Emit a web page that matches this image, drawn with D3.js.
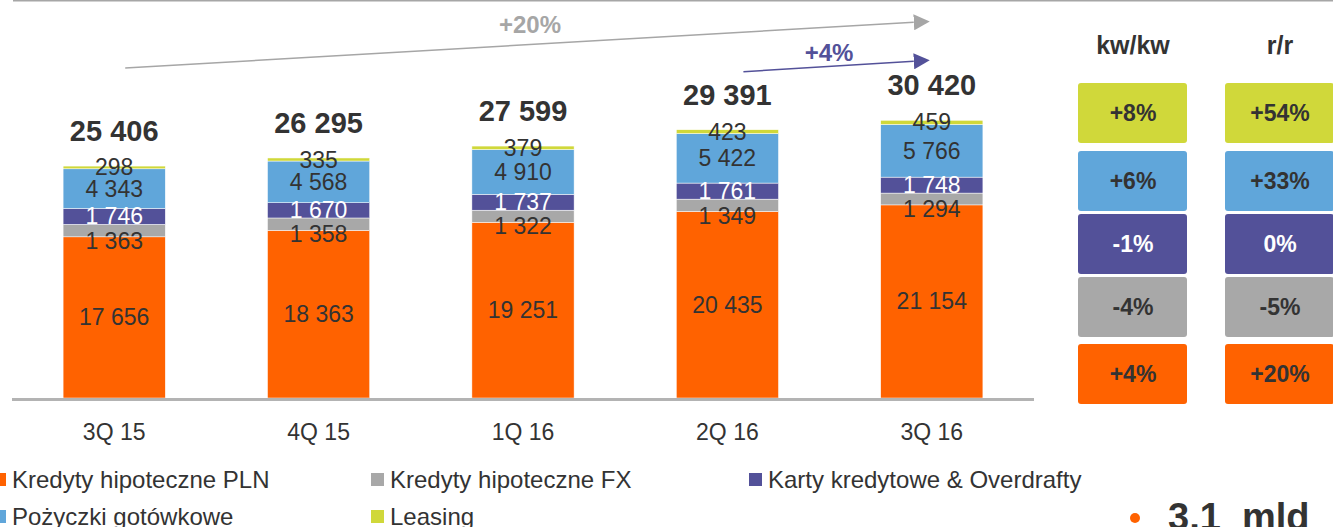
<!DOCTYPE html>
<html>
<head>
<meta charset="utf-8">
<script src="https://cdn.jsdelivr.net/npm/d3@7"></script>
<style>
  body { margin: 0; background: #fff; }
  svg { display: block; font-family: "Liberation Sans", Arial, sans-serif; }
</style>
</head>
<body>
<div id="chart"></div>
<script>
var width = 1333,
  height = 527;

// data
var categories = ["3Q 15", "4Q 15", "1Q 16", "2Q 16", "3Q 16"];
var seriesNames = ["Kredyty hipoteczne PLN", "Kredyty hipoteczne FX", "Karty kredytowe & Overdrafty", "Pożyczki gotówkowe", "Leasing"];
var hipPLN = [17656, 18363, 19251, 20435, 21154];
var hipFX = [1363, 1358, 1322, 1349, 1294];
var karty = [1746, 1670, 1737, 1761, 1748];
var pozyczki = [4343, 4568, 4910, 5422, 5766];
var leasing = [298, 335, 379, 423, 459];
var totals = [25406, 26295, 27599, 29391, 30420];
var kwkw = ["+4%", "-4%", "-1%", "+6%", "+8%"];   // same order as series
var rr = ["+20%", "-5%", "0%", "+33%", "+54%"];
var growthAll = "+20%", growthQ = "+4%";
var summary = "3,1  mld";

var colors = ["#ff6200", "#a8a8a8", "#535199", "#60a6da", "#d0d83a"];
var labelColors = ["#333", "#333", "#fff", "#333", "#333"];
var values = [hipPLN, hipFX, karty, pozyczki, leasing];

var fmt = function(v) { return d3.format(",")(v).replace(/,/g, " "); };

var svg = d3.select("#chart")
  .append("svg")
  .attr("width", width)
  .attr("height", height);

var x = d3.scaleBand().domain(categories).range([12, 1034])
  .paddingInner(0.5).paddingOuter(0.25);
var y = d3.scaleLinear().domain([0, 43600]).range([398, 0]);

var table = categories.map(function(c, i) {
  var row = { cat: c };
  seriesNames.forEach(function(s, j) { row[s] = values[j][i]; });
  return row;
});
var stacked = d3.stack().keys(seriesNames)(table);

// top rule
svg.append("line")
  .attr("x1", 13).attr("x2", width)
  .attr("y1", 0.75).attr("y2", 0.75)
  .attr("stroke", "#a6a6a6").attr("stroke-width", 1.5);

// bars
var layers = svg.selectAll(".layer")
  .data(stacked)
  .enter().append("g")
  .attr("class", "layer")
  .attr("fill", function(d, i) { return colors[i]; });

layers.selectAll("rect")
  .data(function(d) { return d; })
  .enter().append("rect")
  .attr("x", function(d) { return x(d.data.cat); })
  .attr("width", x.bandwidth())
  .attr("y", function(d) { return y(d[1]); })
  .attr("height", function(d) { return y(d[0]) - y(d[1]); })
  .attr("stroke", "#fff")
  .attr("stroke-width", 0.5);

// axis line
svg.append("line")
  .attr("x1", 12).attr("x2", 1034)
  .attr("y1", 399.5).attr("y2", 399.5)
  .attr("stroke", "#b3b3b3").attr("stroke-width", 3);

var xAxis = svg.append("g")
  .attr("transform", "translate(0,432)")
  .call(d3.axisBottom(x).tickSize(0).tickPadding(0));
xAxis.select(".domain").remove();
xAxis.selectAll("text")
  .attr("dy", "0.35em")
  .attr("font-size", 23)
  .attr("fill", "#333")
  .attr("font-family", "Liberation Sans, Arial, sans-serif");

// segment labels
stacked.forEach(function(layer, j) {
  svg.append("g").selectAll("text")
    .data(layer)
    .enter().append("text")
    .attr("x", function(d) { return x(d.data.cat) + x.bandwidth() / 2; })
    .attr("y", function(d) {
      if (j === 1) return y(d[0]) + 4;
      return (y(d[0]) + y(d[1])) / 2;
    })
    .attr("dy", "0.35em")
    .attr("text-anchor", "middle")
    .attr("font-size", 23)
    .attr("fill", labelColors[j])
    .text(function(d) { return fmt(d.data[layer.key]); });
});

// totals
svg.append("g").selectAll("text")
  .data(totals)
  .enter().append("text")
  .attr("x", function(d, i) { return x(categories[i]) + x.bandwidth() / 2; })
  .attr("y", function(d) { return y(d) - 25; })
  .attr("text-anchor", "middle")
  .attr("font-size", 29)
  .attr("font-weight", "bold")
  .attr("fill", "#333")
  .text(fmt);

// arrows
var defs = svg.append("defs");
function marker(id, col) {
  defs.append("marker")
    .attr("id", id)
    .attr("viewBox", "0 0 10 10")
    .attr("refX", 0).attr("refY", 5)
    .attr("markerUnits", "userSpaceOnUse")
    .attr("markerWidth", 16).attr("markerHeight", 16)
    .attr("orient", "auto")
    .append("path")
    .attr("d", "M0,0L10,5L0,10Z")
    .attr("fill", col);
}
marker("arrGray", "#a6a6a6");
marker("arrPurple", "#535199");

var last = categories.length - 1;
var endX = x(categories[last]) + x.bandwidth() / 2 - 18;
svg.append("line")
  .attr("x1", x(categories[0]) + x.bandwidth() / 2 + 11)
  .attr("y1", y(totals[0]) - 98)
  .attr("x2", endX)
  .attr("y2", y(totals[last]) - 98)
  .attr("stroke", "#a6a6a6").attr("stroke-width", 1.5)
  .attr("marker-end", "url(#arrGray)");
svg.append("text")
  .attr("x", 530).attr("y", 25).attr("dy", "0.35em")
  .attr("text-anchor", "middle")
  .attr("font-size", 24).attr("font-weight", "bold")
  .attr("fill", "#a6a6a6")
  .text(growthAll);

svg.append("line")
  .attr("x1", x(categories[3]) + x.bandwidth() / 2 + 16)
  .attr("y1", y(totals[3]) - 58)
  .attr("x2", endX)
  .attr("y2", y(totals[last]) - 59)
  .attr("stroke", "#535199").attr("stroke-width", 1.5)
  .attr("marker-end", "url(#arrPurple)");
svg.append("text")
  .attr("x", 829).attr("y", 53).attr("dy", "0.35em")
  .attr("text-anchor", "middle")
  .attr("font-size", 24).attr("font-weight", "bold")
  .attr("fill", "#535199")
  .text(growthQ);

// change boxes
var boxTops = [344, 277, 214, 151, 83];
var boxH = 60;
var cols = [{ x: 1078, head: "kw/kw", vals: kwkw }, { x: 1225, head: "r/r", vals: rr }];
cols.forEach(function(c) {
  svg.append("text")
    .attr("x", c.x + 55).attr("y", 45).attr("dy", "0.35em")
    .attr("text-anchor", "middle")
    .attr("font-size", 25).attr("font-weight", "bold")
    .attr("fill", "#333")
    .text(c.head);
  var g = svg.append("g").selectAll("g")
    .data(c.vals)
    .enter().append("g");
  g.append("rect")
    .attr("x", c.x).attr("y", function(d, i) { return boxTops[i]; })
    .attr("width", 109).attr("height", boxH)
    .attr("rx", 3)
    .attr("fill", function(d, i) { return colors[i]; });
  g.append("text")
    .attr("x", c.x + 55)
    .attr("y", function(d, i) { return boxTops[i] + boxH / 2; })
    .attr("dy", "0.35em")
    .attr("text-anchor", "middle")
    .attr("font-size", 23).attr("font-weight", "bold")
    .attr("fill", function(d, i) { return labelColors[i]; })
    .text(function(d) { return d; });
});

// legend
var legendPos = [[12, 480], [390, 480], [768, 480], [12, 517], [390, 517]];
var legend = svg.append("g").selectAll("g")
  .data(seriesNames)
  .enter().append("g")
  .attr("transform", function(d, i) { return "translate(" + legendPos[i][0] + "," + legendPos[i][1] + ")"; });
legend.append("rect")
  .attr("x", -19).attr("y", -7)
  .attr("width", 13).attr("height", 13)
  .attr("fill", function(d, i) { return colors[i]; });
legend.append("text")
  .attr("x", 0).attr("dy", "0.35em")
  .attr("font-size", 24)
  .attr("fill", "#333")
  .text(function(d) { return d; });

// summary
svg.append("circle")
  .attr("cx", 1135).attr("cy", 518).attr("r", 5)
  .attr("fill", "#ff6200");
svg.append("text")
  .attr("x", 1168).attr("y", 530)
  .attr("font-size", 38).attr("font-weight", "bold")
  .attr("fill", "#333")
  .attr("xml:space", "preserve")
  .style("white-space", "pre")
  .text(summary);
</script>
</body>
</html>
